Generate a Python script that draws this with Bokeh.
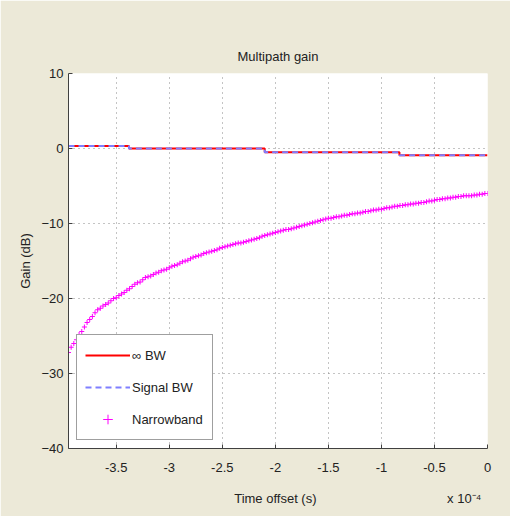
from bokeh.plotting import figure
from bokeh.models import FixedTicker, CustomJSTickFormatter, Legend, LegendItem, LinearAxis
from bokeh.embed import file_html
from bokeh.resources import INLINE

# ---- data ----
# step curves (time in seconds, gain in dB)
step_t = [-3.95e-4, -3.38e-4, -2.10e-4, -0.83e-4, 0.0]
inf_bw_gain = [0.35, 0.0, -0.5, -0.9, -0.9]
signal_bw_gain = [0.35, 0.0, -0.5, -0.9, -0.9]

# narrowband gain samples, every 0.025e-4 s from -3.95e-4 s
nb_gain = [-27.2, -26.5, -26.0, -25.5, -24.8, -24.4, -23.8, -23.2, -22.8, -22.4,
           -21.9, -21.5, -21.3, -21.0, -20.8, -20.6, -20.3, -20.0, -19.9, -19.6,
           -19.4, -19.2, -18.9, -18.7, -18.4, -18.1, -17.9, -17.8, -17.5, -17.2,
           -17.1, -17.0, -16.8, -16.6, -16.5, -16.3, -16.2, -16.1, -15.9, -15.7,
           -15.6, -15.5, -15.3, -15.1, -15.0, -14.9, -14.7, -14.5, -14.4, -14.3,
           -14.2, -14.0, -13.9, -13.8, -13.7, -13.6, -13.5, -13.3, -13.2, -13.1,
           -13.0, -12.9, -12.8, -12.7, -12.6, -12.6, -12.5, -12.4, -12.3, -12.2,
           -12.1, -12.0, -11.9, -11.7, -11.6, -11.5, -11.4, -11.3, -11.2, -11.1,
           -11.0, -10.9, -10.8, -10.8, -10.7, -10.6, -10.5, -10.4, -10.3, -10.2,
           -10.1, -10.0, -9.9, -9.8, -9.7, -9.6, -9.5, -9.4, -9.3, -9.3,
           -9.2, -9.1, -9.1, -9.0, -8.9, -8.9, -8.8, -8.7, -8.7, -8.6,
           -8.6, -8.5, -8.4, -8.4, -8.3, -8.2, -8.2, -8.1, -8.1, -8.0,
           -7.9, -7.9, -7.8, -7.7, -7.7, -7.6, -7.6, -7.5, -7.5, -7.4,
           -7.4, -7.3, -7.3, -7.2, -7.2, -7.1, -7.0, -7.0, -6.9, -6.8,
           -6.8, -6.7, -6.7, -6.6, -6.6, -6.5, -6.5, -6.4, -6.4, -6.3,
           -6.3, -6.3, -6.3, -6.2, -6.2, -6.1, -6.1, -6.0, -6.0]
nb_t = [-3.95e-4 + i * 0.025e-4 for i in range(len(nb_gain))]

x_ticks = [-3.5e-4, -3e-4, -2.5e-4, -2e-4, -1.5e-4, -1e-4, -0.5e-4, 0.0]
y_ticks = [10, 0, -10, -20, -30, -40]
x_label = "Time offset (s)"
x_multiplier = "x 10\u207b\u2074"

FONT = "Liberation Sans"
BG = "#ECE9D8"

p = figure(width=510, height=516, output_backend="svg", toolbar_location=None,
           x_range=(-3.95e-4, 0.0), y_range=(-40, 10),
           title="Multipath gain",
           min_border_left=68, min_border_right=23, min_border_top=73, min_border_bottom=68)
p.border_fill_color = BG
p.background_fill_color = "white"
p.outline_line_color = None

p.title.align = "center"
p.title.text_font = FONT
p.title.text_font_size = "13px"
p.title.text_font_style = "normal"
p.title.text_color = "#222222"
p.title.standoff = 19

for ax in (p.xaxis[0], p.yaxis[0]):
    ax.axis_line_color = "#404040"
    ax.major_tick_line_color = "#404040"
    ax.major_tick_in = 4
    ax.major_tick_out = 0
    ax.minor_tick_line_color = None
    ax.major_label_text_font = FONT
    ax.major_label_text_font_size = "13px"
    ax.major_label_text_color = "#222222"
    ax.axis_label_text_font = FONT
    ax.axis_label_text_font_size = "13px"
    ax.axis_label_text_font_style = "normal"
    ax.axis_label_text_color = "#222222"

p.xaxis.ticker = FixedTicker(ticks=x_ticks)
p.xaxis.formatter = CustomJSTickFormatter(code="const v = Math.round(tick*1e5)/10; return v.toString();")
p.xaxis.major_label_standoff = 14

# second, line-less axis carrying the x label and the exponent on one row
label_axis = LinearAxis(
    ticker=FixedTicker(ticks=[-2.0e-4, -0.22e-4]),
    formatter=CustomJSTickFormatter(
        args=dict(lab=x_label, mult=x_multiplier),
        code="return index == 0 ? lab : mult;"),
    axis_line_color=None, major_tick_line_color=None, minor_tick_line_color=None,
    major_tick_in=0, major_tick_out=0, major_label_standoff=16,
    major_label_text_font=FONT, major_label_text_font_size="13px",
    major_label_text_color="#222222")
p.add_layout(label_axis, "below")

p.yaxis.ticker = FixedTicker(ticks=y_ticks)
p.yaxis.axis_label = "Gain (dB)"
p.yaxis.major_label_standoff = 5
p.yaxis.axis_label_standoff = 5

for g in (p.xgrid[0], p.ygrid[0]):
    g.grid_line_color = "#888888"
    g.grid_line_dash = "1 4"
    g.grid_line_width = 1

r_inf = p.step(step_t, inf_bw_gain, mode="after", line_color="#FF0000", line_width=2)
r_sig = p.step(step_t, signal_bw_gain, mode="after", line_color="#7F7FFF", line_width=2,
               line_dash="6 4")
r_nb = p.scatter(nb_t, nb_gain, marker="cross", size=5, line_color="#FF00FF", line_width=1)

legend = Legend(items=[LegendItem(label="\u221e BW", renderers=[r_inf]),
                       LegendItem(label="Signal BW", renderers=[r_sig]),
                       LegendItem(label="Narrowband", renderers=[r_nb])],
                location=(8, 8))
legend.label_text_font = FONT
legend.label_text_font_size = "13px"
legend.label_text_color = "#222222"
legend.glyph_width = 45
legend.label_standoff = 2
legend.label_height = 24
legend.glyph_height = 24
legend.spacing = 8
legend.padding = 8
legend.label_width = 72
legend.border_line_color = "#404040"
legend.border_line_width = 1
legend.background_fill_color = "white"
legend.background_fill_alpha = 1
p.add_layout(legend, "center")

open("out.html", "w").write(file_html(p, INLINE))
